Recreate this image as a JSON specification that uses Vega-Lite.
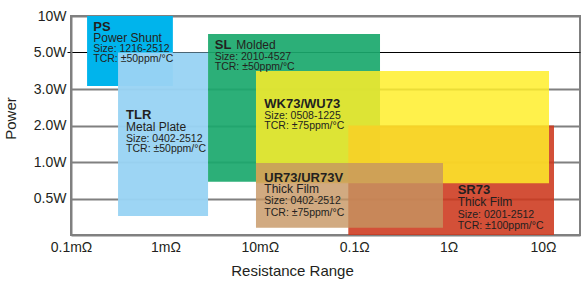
{
  "$schema": "https://vega.github.io/schema/vega-lite/v6.json",
  "width": 509,
  "height": 219,
  "autosize": {"type": "none"},
  "padding": {"left": 71, "top": 16, "right": 7, "bottom": 48},
  "background": "white",
  "config": {
    "view": {"stroke": "#808080", "strokeWidth": 2},
    "font": "Liberation Sans"
  },
  "datasets": {
    "boxes": [
      {"series": "PS", "r1": 0.000148, "r2": 0.00120, "p1": 4.08, "p2": 6},
      {"series": "TLR", "r1": 0.000315, "r2": 0.00283, "p1": 0.52, "p2": 5.0},
      {"series": "SL", "r1": 0.00283, "r2": 0.1877, "p1": 1.46, "p2": 5.51},
      {"series": "SR73", "r1": 0.0866, "r2": 13.08, "p1": 0, "p2": 3.0},
      {"series": "WK73", "r1": 0.00911, "r2": 11.58, "p1": 1.42, "p2": 4.49},
      {"series": "UR73", "r1": 0.00911, "r2": 0.872, "p1": 0.2, "p2": 1.97}
    ],
    "labels": [
      {"label": "PS", "kind": "name", "r": 0.000172, "p": 5.60},
      {"label": "Power Shunt", "kind": "sub", "r": 0.000172, "p": 5.30},
      {"label": "Size: 1216-2512", "kind": "detail", "r": 0.000172, "p": 5.02},
      {"label": "TCR: ±50ppm/°C", "kind": "detail", "r": 0.000172, "p": 4.73},
      {"label": "TLR", "kind": "name", "r": 0.000383, "p": 3.17},
      {"label": "Metal Plate", "kind": "sub", "r": 0.000383, "p": 2.86},
      {"label": "Size: 0402-2512", "kind": "detail", "r": 0.000383, "p": 2.56},
      {"label": "TCR: ±50ppm/°C", "kind": "detail", "r": 0.000383, "p": 2.27},
      {"label": "SL", "kind": "name", "r": 0.00333, "p": 5.10},
      {"label": "Molded", "kind": "sub", "r": 0.00564, "p": 5.10},
      {"label": "Size: 2010-4527", "kind": "detail", "r": 0.00333, "p": 4.80},
      {"label": "TCR: ±50ppm/°C", "kind": "detail", "r": 0.00333, "p": 4.51},
      {"label": "WK73/WU73", "kind": "name", "r": 0.01116, "p": 3.48},
      {"label": "Size: 0508-1225", "kind": "detail", "r": 0.01116, "p": 3.18},
      {"label": "TCR: ±75ppm/°C", "kind": "detail", "r": 0.01116, "p": 2.90},
      {"label": "UR73/UR73V", "kind": "name", "r": 0.01116, "p": 1.44},
      {"label": "Thick Film", "kind": "sub", "r": 0.01116, "p": 1.16},
      {"label": "Size: 0402-2512", "kind": "detail", "r": 0.01116, "p": 0.85},
      {"label": "TCR: ±75ppm/°C", "kind": "detail", "r": 0.01116, "p": 0.52},
      {"label": "SR73", "kind": "name", "r": 1.248, "p": 1.12},
      {"label": "Thick Film", "kind": "sub", "r": 1.248, "p": 0.80},
      {"label": "Size: 0201-2512", "kind": "detail", "r": 1.248, "p": 0.47},
      {"label": "TCR: ±100ppm/°C", "kind": "detail", "r": 1.248, "p": 0.16}
    ]
  },
  "layer": [
    {
      "data": {"name": "boxes"},
      "mark": {"type": "rect"},
      "encoding": {
        "x": {
          "field": "r1", "type": "quantitative",
          "scale": {"type": "log", "domain": [0.0001, 24.66], "nice": false},
          "axis": {
            "values": [0.0001, 0.001, 0.01, 0.1, 1, 10],
            "labelExpr": "datum.value < 0.0005 ? '0.1mΩ' : datum.value < 0.005 ? '1mΩ' : datum.value < 0.05 ? '10mΩ' : datum.value < 0.5 ? '0.1Ω' : datum.value < 5 ? '1Ω' : '10Ω'",
            "grid": false,
            "ticks": false,
            "labelPadding": 5,
            "labelFontSize": 14,
            "labelColor": "#231f20",
            "labelFlush": false,
            "labelOverlap": false,
            "domainColor": "#808080",
            "domainWidth": 2,
            "title": "Resistance Range",
            "titleFontSize": 15,
            "titleFontWeight": "normal",
            "titleColor": "#231f20",
            "titleX": 221,
            "titleY": 40,
            "titleBaseline": "alphabetic",
            "titleAlign": "center"
          }
        },
        "x2": {"field": "r2"},
        "y": {
          "field": "p1", "type": "quantitative",
          "scale": {"domain": [0, 6], "nice": false, "zero": false},
          "axis": {
            "values": [1, 2, 3, 4, 5, 6],
            "labelExpr": "['', '0.5W', '1.0W', '2.0W', '3.0W', '5.0W', '10W'][datum.value]",
            "grid": true,
            "gridColor": {"condition": {"test": "datum.value === 5", "value": "#000000"}, "value": "#808080"},
            "gridWidth": {"condition": {"test": "datum.value === 5", "value": 1}, "value": 2},
            "ticks": true,
            "tickSize": 4,
            "tickColor": {"condition": {"test": "datum.value === 5", "value": "#000000"}, "value": "transparent"},
            "labelPadding": 1,
            "labelFontSize": 14,
            "labelColor": "#231f20",
            "labelOverlap": false,
            "domainColor": "#808080",
            "domainWidth": 2,
            "title": "Power",
            "titleFontSize": 15,
            "titleFontWeight": "normal",
            "titleColor": "#231f20",
            "titleX": -56,
            "titleY": 102,
            "titleAngle": -90,
            "titleBaseline": "alphabetic",
            "titleAlign": "center"
          }
        },
        "y2": {"field": "p2"},
        "color": {
          "field": "series", "type": "nominal",
          "scale": {
            "domain": ["PS", "TLR", "SL", "SR73", "WK73", "UR73"],
            "range": ["#00b4ec", "rgb(153,211,244)", "#1aa86d", "rgb(205,56,29)", "rgb(255,238,40)", "rgb(197,149,97)"]
          },
          "legend": null
        },
        "opacity": {
          "field": "series", "type": "nominal",
          "scale": {
            "domain": ["PS", "TLR", "SL", "SR73", "WK73", "UR73"],
            "range": [1, 0.8, 1, 0.9, 0.85, 0.83]
          },
          "legend": null
        }
      }
    },
    {
      "data": {"name": "labels"},
      "transform": [{"filter": "datum.kind === 'name'"}],
      "mark": {"type": "text", "align": "left", "baseline": "alphabetic", "font": "Liberation Sans", "fontWeight": "bold", "fontSize": 13, "color": "#231f20"},
      "encoding": {
        "x": {"field": "r", "type": "quantitative"},
        "y": {"field": "p", "type": "quantitative"},
        "text": {"field": "label"}
      }
    },
    {
      "data": {"name": "labels"},
      "transform": [{"filter": "datum.kind === 'sub'"}],
      "mark": {"type": "text", "align": "left", "baseline": "alphabetic", "font": "Liberation Sans", "fontSize": 12, "color": "#231f20"},
      "encoding": {
        "x": {"field": "r", "type": "quantitative"},
        "y": {"field": "p", "type": "quantitative"},
        "text": {"field": "label"}
      }
    },
    {
      "data": {"name": "labels"},
      "transform": [{"filter": "datum.kind === 'detail'"}],
      "mark": {"type": "text", "align": "left", "baseline": "alphabetic", "font": "Liberation Sans", "fontSize": 10.5, "color": "#231f20"},
      "encoding": {
        "x": {"field": "r", "type": "quantitative"},
        "y": {"field": "p", "type": "quantitative"},
        "text": {"field": "label"}
      }
    }
  ]
}
